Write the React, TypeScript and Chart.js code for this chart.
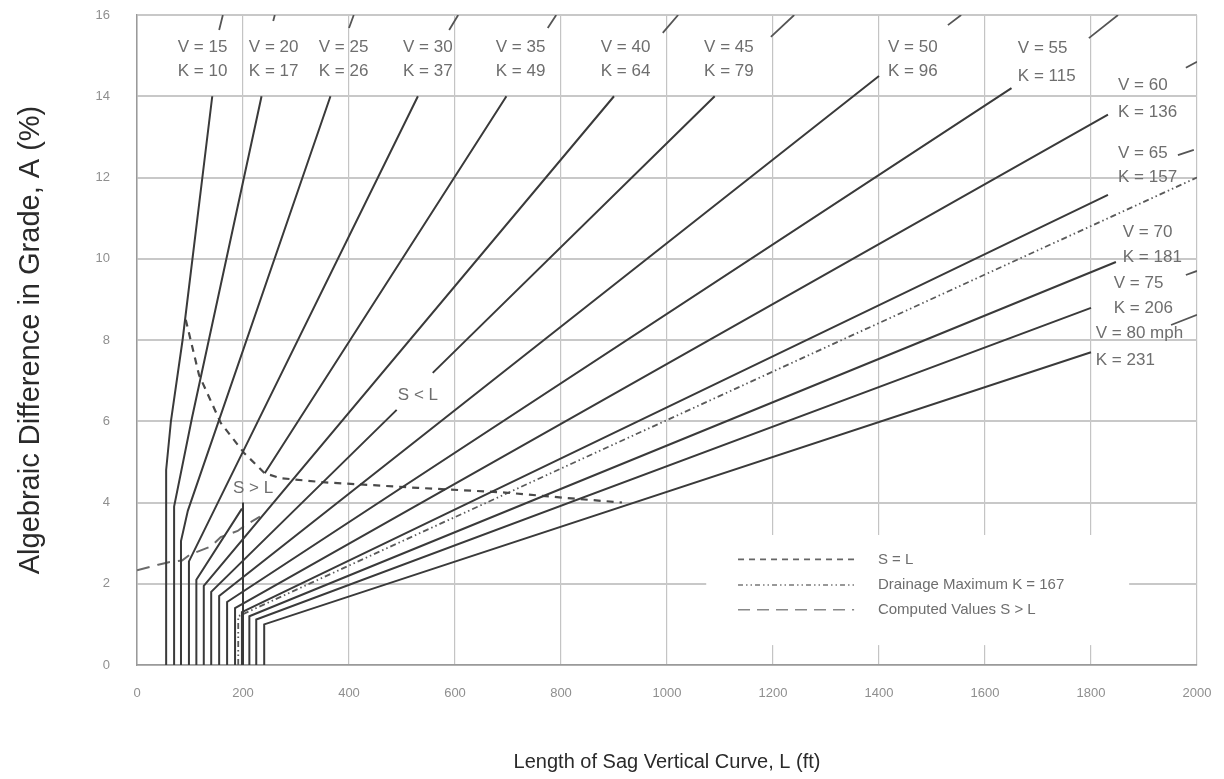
import React, { useEffect, useRef } from 'react';
import { Chart, registerables } from 'chart.js';

Chart.register(...registerables);

// ---- Data (L in ft, A in %); null marks a gap ----
const speedLabels = ['V = 15', 'V = 20', 'V = 25', 'V = 30', 'V = 35', 'V = 40', 'V = 45', 'V = 50', 'V = 55', 'V = 60', 'V = 65', 'V = 70', 'V = 75', 'V = 80 mph'];
const kLabels = ['K = 10', 'K = 17', 'K = 26', 'K = 37', 'K = 49', 'K = 64', 'K = 79', 'K = 96', 'K = 115', 'K = 136', 'K = 157', 'K = 181', 'K = 206', 'K = 231'];

const curveV15 = [[55, 0], [55, 4.8], [64, 6.0], [86, 8.0], [142, 14]];
const curveV20 = [[70, 0], [70, 3.9], [104, 6.1], [235, 14]];
const curveV25 = [[83, 0], [83, 3.05], [96, 3.8], [365, 14]];
const curveV30 = [[98, 0], [98, 2.55], [530, 14]];
const curveV35 = [[112, 0], [112, 2.1], [198, 3.85], null, [241, 4.72], [697, 14]];
const curveV40 = [[126, 0], [126, 1.95], [900, 14]];
const curveV45 = [[140, 0], [140, 1.8], [490, 6.28], null, [558, 7.19], [1090, 14]];
const curveV50 = [[155, 0], [155, 1.7], [1400, 14.5]];
const curveV55 = [[170, 0], [170, 1.55], [1650, 14.2]];
const curveV60 = [[185, 0], [185, 1.4], [1832, 13.55]];
const curveV65 = [[198, 0], [198, 1.3], [1832, 11.57]];
const curveV70 = [[212, 0], [212, 1.2], [1847, 9.92]];
const curveV75 = [[225, 0], [225, 1.12], [1800, 8.79]];
const curveV80 = [[240, 0], [240, 1.0], [1800, 7.7]];
const limit200 = [[200, 0], [200, 4]];

const sEqualsL = [[92, 8.5], [117, 7.14], [158, 5.96], [202, 5.22], [241, 4.72], [270, 4.6], [350, 4.5], [530, 4.36], [690, 4.25], [820, 4.1], [915, 4.0]];
const drainageMax = [[191, 0], [191, 1.2], [2000, 12]];
const computedSgtL = [[0, 2.33], [40, 2.47], [60, 2.53], [85, 2.57], [100, 2.72], [140, 2.92], [158, 3.15], [190, 3.3], [205, 3.45], [232, 3.65]];

const leaderStrokes = [
  [155, 15.63], [162, 16], null,
  [257, 15.85], [260, 16], null,
  [400, 15.68], [409, 16], null,
  [589, 15.63], [606, 16], null,
  [775, 15.68], [791, 16], null,
  [992, 15.56], [1021, 16], null,
  [1196, 15.46], [1240, 16], null,
  [1530, 15.75], [1555, 16], null,
  [1796, 15.43], [1851, 16], null,
  [1979, 14.7], [2000, 14.85], null,
  [1964, 12.55], [1994, 12.68], null,
  [1979, 9.6], [2000, 9.7], null,
  [1951, 8.37], [2000, 8.62],
];

const xTickValues = [0, 200, 400, 600, 800, 1000, 1200, 1400, 1600, 1800, 2000];
const yTickValues = [0, 2, 4, 6, 8, 10, 12, 14, 16];

const legendLabels = ['S = L', 'Drainage Maximum K = 167', 'Computed Values S > L'];
const regionLabels = ['S < L', 'S > L'];

// ---- Layout (positions in data units) ----
const labelX = [77, 211, 343, 502, 677, 875, 1070, 1417, 1662, 1851, 1851, 1860, 1843, 1809];
const labelVY = [15.21, 15.21, 15.21, 15.21, 15.21, 15.21, 15.21, 15.21, 15.19, 14.28, 12.6, 10.66, 9.4, 8.17];
const labelKY = [14.62, 14.62, 14.62, 14.62, 14.62, 14.62, 14.62, 14.62, 14.5, 13.61, 12.01, 10.04, 8.79, 7.51];
const regionLabelPos = [[530, 6.65], [219, 4.36]];
const legendBox = { x0: 1074, x1: 1872, y0: 0.49, y1: 3.2 };
const legendRowsY = [2.6, 1.97, 1.36];
const legendSample = { x0: 1134, x1: 1353, tx: 1398 };

const LINE = '#3a3a3a';
const FONT = "'Liberation Sans', Arial, Helvetica, sans-serif";

const toXY = (pts: (number[] | null)[]) =>
  pts.map((p, i) => (p ? { x: p[0], y: p[1] } : { x: (pts[i - 1] as number[])[0], y: null }));

const solid = (pts: (number[] | null)[]) => ({
  data: toXY(pts),
  showLine: true,
  borderColor: LINE,
  borderWidth: 2,
  pointRadius: 0,
  spanGaps: false,
  fill: false,
});

const annotations = {
  id: 'annotations',
  beforeDatasetsDraw(chart: any) {
    const { ctx, scales } = chart;
    const x = scales.x, y = scales.y;
    ctx.save();
    ctx.fillStyle = '#ffffff';
    const px0 = x.getPixelForValue(legendBox.x0), px1 = x.getPixelForValue(legendBox.x1);
    const py0 = y.getPixelForValue(legendBox.y1), py1 = y.getPixelForValue(legendBox.y0);
    ctx.fillRect(px0, py0, px1 - px0, py1 - py0);
    ctx.restore();
  },
  afterDatasetsDraw(chart: any) {
    const { ctx, scales } = chart;
    const x = scales.x, y = scales.y;
    ctx.save();
    ctx.fillStyle = '#6e6e6e';
    ctx.textBaseline = 'middle';
    ctx.textAlign = 'left';
    ctx.font = `17px ${FONT}`;
    speedLabels.forEach((t, i) => {
      ctx.fillText(t, x.getPixelForValue(labelX[i]), y.getPixelForValue(labelVY[i]));
      ctx.fillText(kLabels[i], x.getPixelForValue(labelX[i]), y.getPixelForValue(labelKY[i]));
    });
    ctx.textAlign = 'center';
    regionLabels.forEach((t, i) => {
      ctx.fillText(t, x.getPixelForValue(regionLabelPos[i][0]), y.getPixelForValue(regionLabelPos[i][1]));
    });
    // legend
    const dashes = [[6, 5], [5, 3, 1.5, 3, 1.5, 3], [12, 7]];
    const cols = ['#666', '#777', '#888'];
    legendRowsY.forEach((ry, i) => {
      const py = y.getPixelForValue(ry);
      ctx.beginPath();
      ctx.setLineDash(dashes[i]);
      ctx.strokeStyle = cols[i];
      ctx.lineWidth = 1.6;
      ctx.moveTo(x.getPixelForValue(legendSample.x0), py);
      ctx.lineTo(x.getPixelForValue(legendSample.x1), py);
      ctx.stroke();
      ctx.setLineDash([]);
      ctx.textAlign = 'left';
      ctx.font = `15px ${FONT}`;
      ctx.fillStyle = '#6e6e6e';
      ctx.fillText(legendLabels[i], x.getPixelForValue(legendSample.tx), py);
    });
    ctx.restore();
  },
};

export default function App() {
  const canvasRef = useRef<HTMLCanvasElement | null>(null);

  useEffect(() => {
    if (!canvasRef.current) return;
    const curves = [curveV15, curveV20, curveV25, curveV30, curveV35, curveV40, curveV45, curveV50, curveV55, curveV60, curveV65, curveV70, curveV75, curveV80];
    const datasets: any[] = curves.map((c, i) => ({ label: speedLabels[i], ...solid(c) }));
    datasets.push({ label: 'limit', ...solid(limit200) });
    datasets.push({ label: 'leaders', ...solid(leaderStrokes), borderWidth: 1.8, borderColor: '#555' });
    datasets.push({
      label: legendLabels[0], data: toXY(sEqualsL), showLine: true, borderColor: '#4a4a4a', borderWidth: 2.2,
      borderDash: [7, 6], pointRadius: 0, fill: false,
    });
    datasets.push({
      label: legendLabels[1], data: toXY(drainageMax), showLine: true, borderColor: '#5a5a5a', borderWidth: 1.8,
      borderDash: [6, 3, 1.5, 3, 1.5, 3], pointRadius: 0, fill: false,
    });
    datasets.push({
      label: legendLabels[2], data: toXY(computedSgtL), showLine: true, borderColor: '#6a6a6a', borderWidth: 2,
      borderDash: [13, 8], pointRadius: 0, fill: false,
    });

    const chart = new Chart(canvasRef.current, {
      type: 'scatter',
      data: { datasets },
      plugins: [annotations],
      options: {
        animation: false,
        responsive: true,
        maintainAspectRatio: false,
        layout: { padding: { top: 15, right: 27, left: 0, bottom: 0 } },
        plugins: { legend: { display: false }, tooltip: { enabled: false } },
        scales: {
          x: {
            type: 'linear',
            min: 0,
            max: 2000,
            afterBuildTicks: (s: any) => { s.ticks = xTickValues.map((v) => ({ value: v })); },
            afterFit: (s: any) => { s.height = 114; s.paddingLeft = 0; s.paddingRight = 0; },
            ticks: { color: '#8f8f8f', font: { size: 13, family: FONT }, padding: 21, callback: (v: any) => String(v), maxRotation: 0 },
            grid: { color: '#c4c4c4', lineWidth: 1.2, drawTicks: false },
            border: { color: '#9a9a9a', width: 1.5 },
            title: { display: true, text: 'Length of Sag Vertical Curve, L (ft)', color: '#2a2a2a', font: { size: 20, family: FONT }, padding: { top: 0, bottom: 5 } },
          },
          y: {
            type: 'linear',
            min: 0,
            max: 16,
            afterBuildTicks: (s: any) => { s.ticks = yTickValues.map((v) => ({ value: v })); },
            afterFit: (s: any) => { s.width = 137; s.paddingTop = 0; s.paddingBottom = 0; },
            ticks: { color: '#8f8f8f', font: { size: 13, family: FONT }, padding: 27, callback: (v: any) => String(v) },
            grid: { color: '#c8c8c8', lineWidth: 2, drawTicks: false },
            border: { color: '#9a9a9a', width: 1.5 },
            title: { display: true, text: 'Algebraic Difference in Grade, A (%)', color: '#2a2a2a', font: { size: 29, family: FONT }, padding: { top: 14, bottom: 0 } },
          },
        },
      },
    });
    return () => chart.destroy();
  }, []);

  return (
    <div style={{ position: 'absolute', left: 0, top: 0, width: 1224, height: 779, background: '#ffffff' }}>
      <canvas ref={canvasRef} />
    </div>
  );
}
